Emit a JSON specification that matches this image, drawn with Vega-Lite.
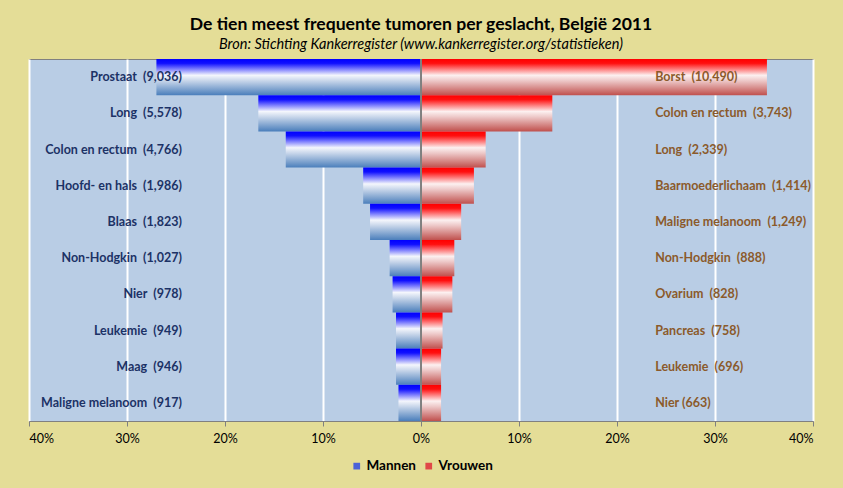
{
  "$schema": "https://vega.github.io/schema/vega-lite/v6.json",
  "width": 784,
  "height": 362,
  "autosize": {"type": "none"},
  "padding": {"left": 29, "top": 59, "right": 30, "bottom": 67},
  "background": "#E4DD97",
  "title": {
    "text": "De tien meest frequente tumoren per geslacht, België 2011",
    "subtitle": "Bron: Stichting Kankerregister (www.kankerregister.org/statistieken)",
    "anchor": "middle",
    "font": "Lato",
    "fontSize": 17.6,
    "fontWeight": "bold",
    "color": "#000000",
    "subtitleFont": "Lato",
    "subtitleFontSize": 14.5,
    "subtitleFontStyle": "italic",
    "subtitleColor": "#000000",
    "subtitlePadding": 4,
    "offset": 7
  },
  "data": {
    "values": [
      {"rank": 1, "sex": "Mannen", "label": "Prostaat\u00a0 (9,036)", "pct": -27.0},
      {"rank": 2, "sex": "Mannen", "label": "Long\u00a0 (5,578)", "pct": -16.6},
      {"rank": 3, "sex": "Mannen", "label": "Colon en rectum\u00a0 (4,766)", "pct": -13.8},
      {"rank": 4, "sex": "Mannen", "label": "Hoofd- en hals\u00a0 (1,986)", "pct": -5.9},
      {"rank": 5, "sex": "Mannen", "label": "Blaas\u00a0 (1,823)", "pct": -5.2},
      {"rank": 6, "sex": "Mannen", "label": "Non-Hodgkin\u00a0 (1,027)", "pct": -3.2},
      {"rank": 7, "sex": "Mannen", "label": "Nier\u00a0 (978)", "pct": -2.9},
      {"rank": 8, "sex": "Mannen", "label": "Leukemie\u00a0 (949)", "pct": -2.55},
      {"rank": 9, "sex": "Mannen", "label": "Maag\u00a0 (946)", "pct": -2.55},
      {"rank": 10, "sex": "Mannen", "label": "Maligne melanoom\u00a0 (917)", "pct": -2.3},
      {"rank": 1, "sex": "Vrouwen", "label": "Borst\u00a0 (10,490)", "pct": 35.3},
      {"rank": 2, "sex": "Vrouwen", "label": "Colon en rectum\u00a0 (3,743)", "pct": 13.4},
      {"rank": 3, "sex": "Vrouwen", "label": "Long\u00a0 (2,339)", "pct": 6.6},
      {"rank": 4, "sex": "Vrouwen", "label": "Baarmoederlichaam\u00a0 (1,414)", "pct": 5.4},
      {"rank": 5, "sex": "Vrouwen", "label": "Maligne melanoom\u00a0 (1,249)", "pct": 4.1},
      {"rank": 6, "sex": "Vrouwen", "label": "Non-Hodgkin\u00a0 (888)", "pct": 3.4},
      {"rank": 7, "sex": "Vrouwen", "label": "Ovarium\u00a0 (828)", "pct": 3.2},
      {"rank": 8, "sex": "Vrouwen", "label": "Pancreas\u00a0 (758)", "pct": 2.2},
      {"rank": 9, "sex": "Vrouwen", "label": "Leukemie\u00a0 (696)", "pct": 2.05},
      {"rank": 10, "sex": "Vrouwen", "label": "Nier (663)", "pct": 2.05}
    ]
  },
  "encoding": {
    "y": {"field": "rank", "type": "ordinal", "axis": null, "scale": {"paddingInner": 0, "paddingOuter": 0}}
  },
  "layer": [
    {
      "mark": {"type": "bar", "opacity": 0},
      "encoding": {
        "x": {
          "field": "pct",
          "type": "quantitative",
          "scale": {"domain": [-40, 40], "nice": false, "zero": false},
          "axis": {
            "values": [-40, -30, -20, -10, 0, 10, 20, 30, 40],
            "labelExpr": "abs(datum.value) + '%'",
            "title": null,
            "grid": true,
            "gridColor": "#FFFFFF",
            "gridWidth": 2,
            "gridOpacity": 1,
            "domainColor": "#808080",
            "tickColor": "#808080",
            "tickSize": 5,
            "labelFont": "Lato",
            "labelFontSize": 12.5,
            "labelColor": "#000000",
            "labelPadding": 6
          }
        },
        "x2": {"datum": 0},
        "color": {
          "field": "sex",
          "type": "nominal",
          "scale": {"domain": ["Mannen", "Vrouwen"], "range": ["#4A62D8", "#E04848"]},
          "legend": {
            "title": null,
            "orient": "none",
            "direction": "horizontal",
            "legendX": 321,
            "legendY": 400,
            "symbolType": "square",
            "symbolSize": 45,
            "symbolOpacity": 1,
            "symbolStrokeWidth": 0,
            "labelFont": "Lato",
            "labelFontSize": 13.5,
            "labelFontWeight": "bold",
            "labelColor": "#000000",
            "columnPadding": 6,
            "labelOffset": 3
          }
        }
      }
    },
    {
      "transform": [{"filter": "datum.sex == 'Mannen'"}],
      "mark": {"type": "bar", "color": {"gradient": "linear", "x1": 0, "y1": 0, "x2": 0, "y2": 1,
               "stops": [{"offset": 0, "color": "#0000FF"}, {"offset": 0.12, "color": "#1010FF"}, {"offset": 0.45, "color": "#F4F6FC"}, {"offset": 0.6, "color": "#C8D6EA"}, {"offset": 1, "color": "#4A7EBB"}]}},
      "encoding": {"x": {"field": "pct", "type": "quantitative"}, "x2": {"datum": 0}}
    },
    {
      "transform": [{"filter": "datum.sex == 'Vrouwen'"}],
      "mark": {"type": "bar", "color": {"gradient": "linear", "x1": 0, "y1": 0, "x2": 0, "y2": 1,
               "stops": [{"offset": 0, "color": "#FF0000"}, {"offset": 0.12, "color": "#FF1010"}, {"offset": 0.45, "color": "#FCF0F0"}, {"offset": 0.6, "color": "#EDC8C8"}, {"offset": 1, "color": "#C0504D"}]}},
      "encoding": {"x": {"field": "pct", "type": "quantitative"}, "x2": {"datum": 0}}
    },
    {
      "mark": {"type": "rule", "color": "#808080", "strokeWidth": 1},
      "encoding": {"x": {"datum": 0}, "y": null}
    },
    {
      "transform": [{"filter": "datum.sex == 'Mannen'"}],
      "mark": {"type": "text", "align": "right", "baseline": "middle", "font": "Lato", "fontSize": 12.5, "fontWeight": "bold", "color": "#1C3266"},
      "encoding": {"x": {"datum": -24.4}, "text": {"field": "label"}}
    },
    {
      "transform": [{"filter": "datum.sex == 'Vrouwen'"}],
      "mark": {"type": "text", "align": "left", "baseline": "middle", "font": "Lato", "fontSize": 12.5, "fontWeight": "bold", "color": "#8B5A2B"},
      "encoding": {"x": {"datum": 23.9}, "text": {"field": "label"}}
    }
  ],
  "config": {
    "view": {"fill": "#B9CDE5", "stroke": "#808080", "strokeWidth": 1}
  }
}
